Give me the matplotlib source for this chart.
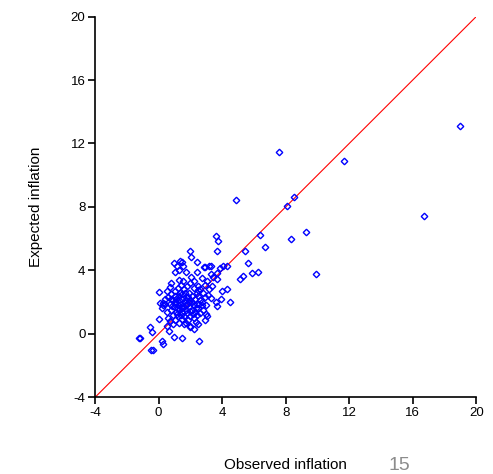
import matplotlib
matplotlib.use("Agg")
import matplotlib.pyplot as plt

plt.rcParams['font.family'] = ['Liberation Sans', 'DejaVu Sans']
plt.rcParams['axes.unicode_minus'] = False

# observed vs expected inflation
obs = [19.0, 7.6, 11.7, 4.85, 8.55, 8.1, 16.7, 9.3, 8.35, 9.9, 6.4, 6.7, 5.45,
       3.6, 3.75, 3.7, 5.6, 5.85, 6.25, 5.1, 5.3, 4.5, 4.3, 4.0, 4.3, 4.05, 3.85,
       3.7, 3.65, 3.3, 2.9, 2.4, 2.4, 1.7, 1.95, 2.05,
       0.95, 1.15, 1.35, 1.45, 1.55, 1.25, 1.05, 0.8, 0.7, 0.05,
       0.1, 0.25, 0.4, 0.2, 0.0, -0.55, -0.45, -1.2, -1.25, -0.5, -0.35, 0.2, 0.3,
       0.65, 0.95, 1.5, 2.55, 1.95, 2.2, 1.75, 2.35, 3.0, 3.65, 3.05,
       3.3, 3.4, 3.05, 2.9, 2.7, 2.5, 3.9, 3.6, 3.3, 3.1, 2.85, 3.2,
       0.6, 0.8, 1.0, 1.2, 1.4, 1.6, 1.8, 2.0, 2.2, 2.4,
       0.7, 0.9, 1.1, 1.3, 1.5, 1.7, 1.9, 2.1, 2.3, 2.5,
       0.8, 1.0, 1.2, 1.4, 1.6, 1.8, 2.0, 2.2, 2.4, 2.6,
       0.9, 1.1, 1.3, 1.5, 1.7, 1.9, 2.1, 2.3, 2.5, 2.7,
       1.0, 1.2, 1.4, 1.6, 1.8, 2.0, 2.2, 2.4, 0.6, 0.5,
       1.1, 1.3, 1.5, 1.7, 1.9, 2.1, 1.2, 1.4, 1.6, 1.0,
       0.4, 0.3, 0.55, 0.75, 1.35, 1.55, 1.25, 2.05, 2.25, 2.6,
       2.8, 2.9, 2.7, 3.0, 2.8, 2.6, 2.9, 2.5, 2.0, 1.6,
       1.3, 0.9, 0.5, 0.7, 1.45, 1.85, 2.15, 2.45, 3.15, 3.35,
       1.65, 1.75, 1.85, 1.15, 1.05, 0.85, 2.35, 2.55, 1.95, 1.45]
exp = [13.1, 11.45, 10.9, 8.45, 8.6, 8.05, 7.45, 6.4, 5.95, 3.75, 6.25, 5.45, 5.2,
       6.15, 5.85, 5.2, 4.45, 3.85, 3.9, 3.45, 3.65, 2.0, 2.8, 2.7, 4.3, 4.3, 4.15,
       3.85, 3.45, 4.3, 4.2, 4.5, 3.9, 3.9, 5.2, 4.85,
       4.45, 4.3, 4.6, 4.5, 4.3, 4.05, 3.9, 3.2, 2.95, 2.65,
       1.95, 1.95, 1.85, 1.65, 0.95, 0.4, 0.1, -0.25, -0.25, -1.05, -1.05, -0.45, -0.65,
       0.15, -0.2, -0.25, -0.45, 0.4, 0.3, 0.7, 0.75, 1.25, 1.75, 1.1,
       3.75, 3.55, 3.35, 3.1, 3.5, 3.0, 2.2, 2.0, 2.25, 2.45, 4.2, 4.3,
       2.3, 2.5, 2.7, 2.9, 3.1, 2.8, 3.0, 3.2, 2.9, 2.6,
       1.9, 2.1, 2.2, 2.4, 2.5, 2.3, 2.6, 2.4, 2.2, 2.4,
       1.5, 1.7, 1.8, 1.9, 2.0, 1.9, 2.1, 1.8, 1.9, 2.1,
       1.2, 1.4, 1.5, 1.6, 1.5, 1.7, 1.5, 1.4, 1.6, 1.8,
       0.9, 1.1, 1.2, 1.1, 1.3, 1.1, 1.0, 1.2, 1.0, 1.4,
       2.0, 2.1, 2.2, 1.8, 2.0, 2.0, 1.6, 1.7, 1.7, 2.4,
       2.2, 1.8, 2.7, 2.2, 2.6, 3.3, 3.4, 3.6, 3.3, 2.8,
       2.6, 2.3, 2.0, 1.8, 1.5, 1.3, 0.9, 0.6, 0.5, 0.6,
       0.7, 0.6, 0.5, 0.8, 0.95, 0.85, 1.25, 2.75, 2.8, 3.0,
       2.6, 2.1, 2.35, 1.25, 1.95, 1.75, 1.65, 1.85, 1.45, 1.4]

ticks = [-4, 0, 4, 8, 12, 16, 20]

fig = plt.figure(figsize=(4.93, 4.74), dpi=100)
ax = fig.add_axes([0.193, 0.162, 0.773, 0.803])

ax.plot([-4, 20], [-4, 20], color='red', lw=0.8, zorder=1)
ax.plot(obs, exp, 'D', ms=3.3, mfc='none', mec='blue', mew=1.0, zorder=2)

ax.set_xlim(-4, 20)
ax.set_ylim(-4, 20)
ax.set_xticks(ticks)
ax.set_yticks(ticks)
ax.spines['top'].set_visible(False)
ax.spines['right'].set_visible(False)
ax.spines['left'].set_linewidth(1.2)
ax.spines['bottom'].set_linewidth(1.2)
ax.tick_params(direction='out', length=5, width=1.2, labelsize=9.5, pad=2)
ax.set_xlabel('Observed inflation', fontsize=11, labelpad=28)
ax.set_ylabel('Expected inflation', fontsize=11, labelpad=20)

fig.text(0.81, 0.036, '15', fontsize=14, color='#8c8c8c', ha='center', va='top')

fig.savefig('out.png', dpi=100)
